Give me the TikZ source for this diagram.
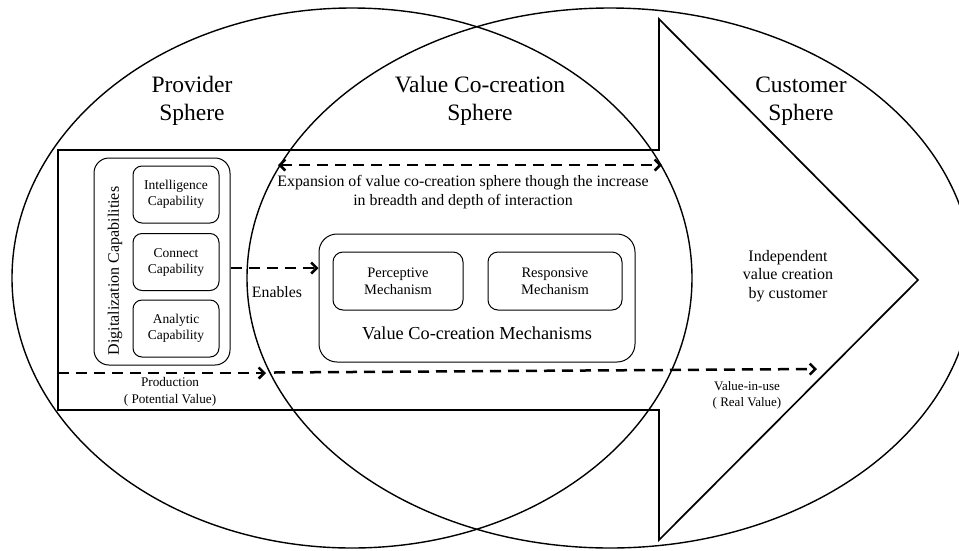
\documentclass[tikz,border=0pt]{standalone}
\usepackage{fontspec}
\setmainfont{Liberation Serif}
\usetikzlibrary{arrows.meta}
\begin{document}
\begin{tikzpicture}[x=1pt,y=-1pt,
  sph/.style={font=\fontsize{23.5}{28}\selectfont, align=center, inner sep=0pt},
  outerbox/.style={draw, line width=1pt, rounded corners=15pt, inner sep=0pt},
  capbox/.style={draw, rounded corners=9pt, line width=1pt, minimum width=86pt, minimum height=57pt, font=\fontsize{13.5}{16}\selectfont, align=center, inner sep=0pt},
  mechbox/.style={draw, rounded corners=10pt, line width=1pt, minimum height=58pt, font=\fontsize{14.5}{17}\selectfont, align=center, inner sep=0pt},
  txt/.style={align=center, inner sep=0pt},
  darr/.style={line width=2.5pt, dash pattern=on 11pt off 7pt, -{Straight Barb[length=5.5pt,width=11pt]}},
  ddarr/.style={line width=2.5pt, dash pattern=on 11pt off 7pt, {Straight Barb[length=5.5pt,width=11pt]}-{Straight Barb[length=5.5pt,width=11pt]}}]
\useasboundingbox (0,0) rectangle (959,550);
\clip (0,0) rectangle (959,550);
% spheres
\draw[line width=1.4pt] (352,278) ellipse [x radius=340pt, y radius=270pt];
\draw[line width=1.4pt] (610,278) ellipse [x radius=363pt, y radius=270pt];
% big arrow
\draw[line width=1.7pt, line join=miter] (58,150) -- (659,150) -- (659,19) -- (918,280) -- (659,540) -- (659,410) -- (58,410) -- cycle;
% sphere labels
\node[sph] (prov) at (192,101) {Provider\\Sphere};
\node[sph] (vccs) at (480,101) {Value Co-creation\\Sphere};
\node[sph] (cust) at (801,101) {Customer\\Sphere};
% digitalization capabilities
\node[outerbox, minimum width=136pt, minimum height=207pt] (dig) at (162,261.5) {};
\node[txt, rotate=90, font=\fontsize{16}{19}\selectfont] (diglab) at (115,271) {Digitalization Capabilities};
\node[capbox] (intel) at (176,194.5) {Intelligence\\Capability};
\node[capbox] (conn) at (176,262) {Connect\\Capability};
\node[capbox] (anal) at (176,328.5) {Analytic\\Capability};
% mechanisms
\node[outerbox, rounded corners=18pt, minimum width=316pt, minimum height=128pt] (mech) at (477,298) {};
\node[mechbox, minimum width=130pt] (perc) at (398,281) {Perceptive\\Mechanism};
\node[mechbox, minimum width=134pt] (resp) at (555,281) {Responsive\\Mechanism};
\node[txt, font=\fontsize{18.3}{21}\selectfont] (mechlab) at (477,333) {Value Co-creation Mechanisms};
% enables
\coordinate (ey) at (0,268);
\draw[darr] (dig.east |- ey) -- (mech.west |- ey);
\node[txt, font=\fontsize{15.8}{18}\selectfont] (enab) at (277,292) {Enables};
% expansion
\coordinate (exa) at (278,165);
\coordinate (exb) at (662,165);
\draw[ddarr] (exa) -- (exb);
\node[txt, font=\fontsize{15.9}{19}\selectfont] (exlab) at (463,192) {Expansion of value co-creation sphere though the increase\\in breadth and depth of interaction};
% production
\coordinate (pa) at (58,373);
\coordinate (pb) at (266,373);
\coordinate (pc) at (274,372.5);
\coordinate (pd) at (817,369);
\draw[darr] (pa) -- (pb);
\draw[darr] (pc) -- (pd);
\node[txt, font=\fontsize{13.2}{17}\selectfont] (prodlab) at (170,392) {Production\\( Potential Value)};
\node[txt, font=\fontsize{13}{16}\selectfont] (viu) at (747,395) {Value-in-use\\( Real Value)};
\node[txt, font=\fontsize{16}{18.5}\selectfont] (indep) at (788,276) {Independent\\value creation\\by customer};
\end{tikzpicture}
\end{document}
